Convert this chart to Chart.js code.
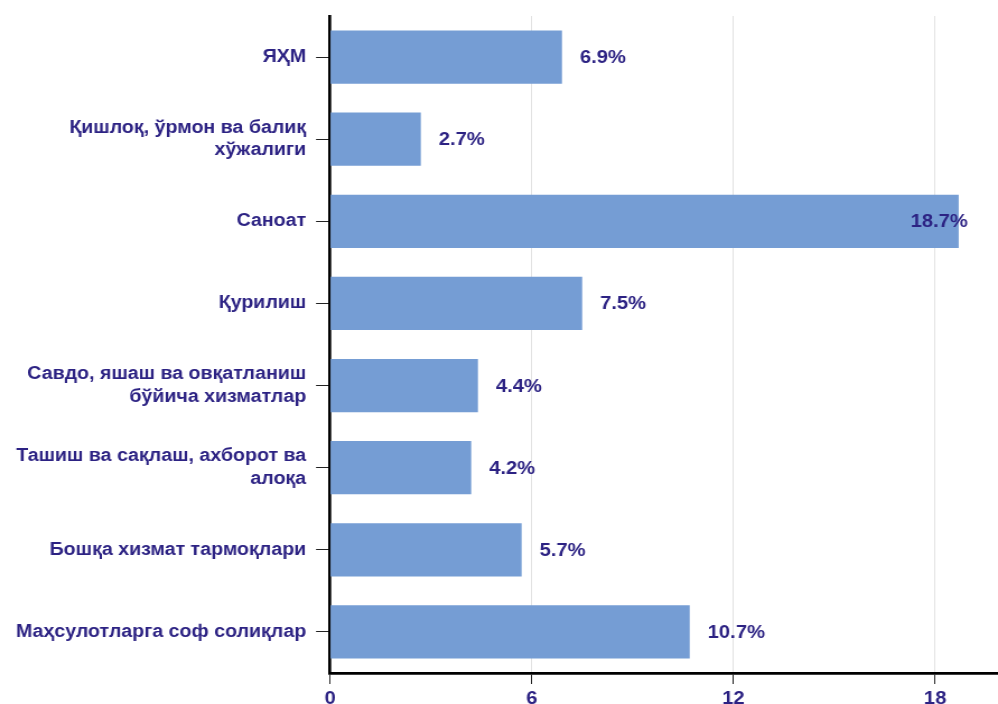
<!DOCTYPE html>
<html>
<head>
<meta charset="utf-8">
<script src="https://cdn.jsdelivr.net/npm/chart.js@4/dist/chart.umd.min.js"></script>
<style>
html,body{margin:0;padding:0;overflow:hidden;background:#fff;}
#c{display:block;width:998px !important;height:720px !important;}
</style>
</head>
<body>
<canvas id="c"></canvas>
<script>
const categories = [
  "ЯҲМ",
  ["Қишлоқ, ўрмон ва балиқ", "хўжалиги"],
  "Саноат",
  "Қурилиш",
  ["Савдо, яшаш ва овқатланиш", "бўйича хизматлар"],
  ["Ташиш ва сақлаш, ахборот ва", "алоқа"],
  "Бошқа хизмат тармоқлари",
  "Маҳсулотларга соф солиқлар"
];
const values = [6.9, 2.7, 18.7, 7.5, 4.4, 4.2, 5.7, 10.7];
const valueLabels = ["6.9%", "2.7%", "18.7%", "7.5%", "4.4%", "4.2%", "5.7%", "10.7%"];
const xTicks = [0, 6, 12, 18];

// horizontal stretch of the reference rendering
const S = 1.12;
const canvas = document.getElementById('c');
canvas.width = Math.round(998 / S);
canvas.height = 720;

const TEXT = '#2c2283';
const FAMILY = '"Liberation Sans", Arial, sans-serif';
const FONT = 'bold 18px ' + FAMILY;

const labelPlugin = {
  id: 'valLabels',
  afterDatasetsDraw(chart) {
    const ctx = chart.ctx;
    const meta = chart.getDatasetMeta(0);
    ctx.save();
    ctx.font = FONT;
    ctx.fillStyle = TEXT;
    ctx.textBaseline = 'middle';
    ctx.textAlign = 'left';
    meta.data.forEach((bar, i) => {
      const t = valueLabels[i];
      const w = ctx.measureText(t).width;
      let x = bar.x + 18 / S;
      if (x + w > chart.chartArea.right - 20 / S) x = bar.x + 9 / S - w;
      ctx.fillText(t, x, bar.y + 1);
    });
    ctx.restore();
  }
};

const chart = new Chart(canvas, {
  type: 'bar',
  data: {
    labels: categories,
    datasets: [{
      data: values,
      backgroundColor: '#759dd4',
      borderWidth: 0,
      categoryPercentage: 0.8,
      barPercentage: 0.81
    }]
  },
  options: {
    indexAxis: 'y',
    responsive: false,
    devicePixelRatio: 1,
    animation: false,
    layout: { padding: { top: 16, right: 0, left: 0, bottom: 0 } },
    plugins: { legend: { display: false }, tooltip: { enabled: false } },
    scales: {
      x: {
        min: 0,
        max: 19.87,
        afterBuildTicks(scale) { scale.ticks = xTicks.map(v => ({ value: v })); },
        afterFit(scale) { scale.height = 47; },
        border: { color: '#000', width: 2.7 },
        grid: { color: '#e2e2e2', lineWidth: 1, tickColor: '#222', tickLength: 11 },
        ticks: {
          color: TEXT,
          font: { family: FAMILY, size: 18, weight: 'bold' },
          padding: 4,
          maxRotation: 0
        }
      },
      y: {
        afterFit(scale) { scale.width = 330 / S; scale.paddingTop = 0; scale.paddingBottom = 0; },
        border: { color: '#000', width: 2.7 },
        grid: { drawOnChartArea: false, offset: false, tickColor: '#222', tickLength: 12.5, lineWidth: 1 },
        ticks: {
          color: TEXT,
          font: { family: FAMILY, size: 17.5, weight: 'bold', lineHeight: 1.3 },
          padding: 8.8
        }
      }
    }
  },
  plugins: [labelPlugin]
});
canvas.style.width = '998px';
canvas.style.height = '720px';
</script>
</body>
</html>
